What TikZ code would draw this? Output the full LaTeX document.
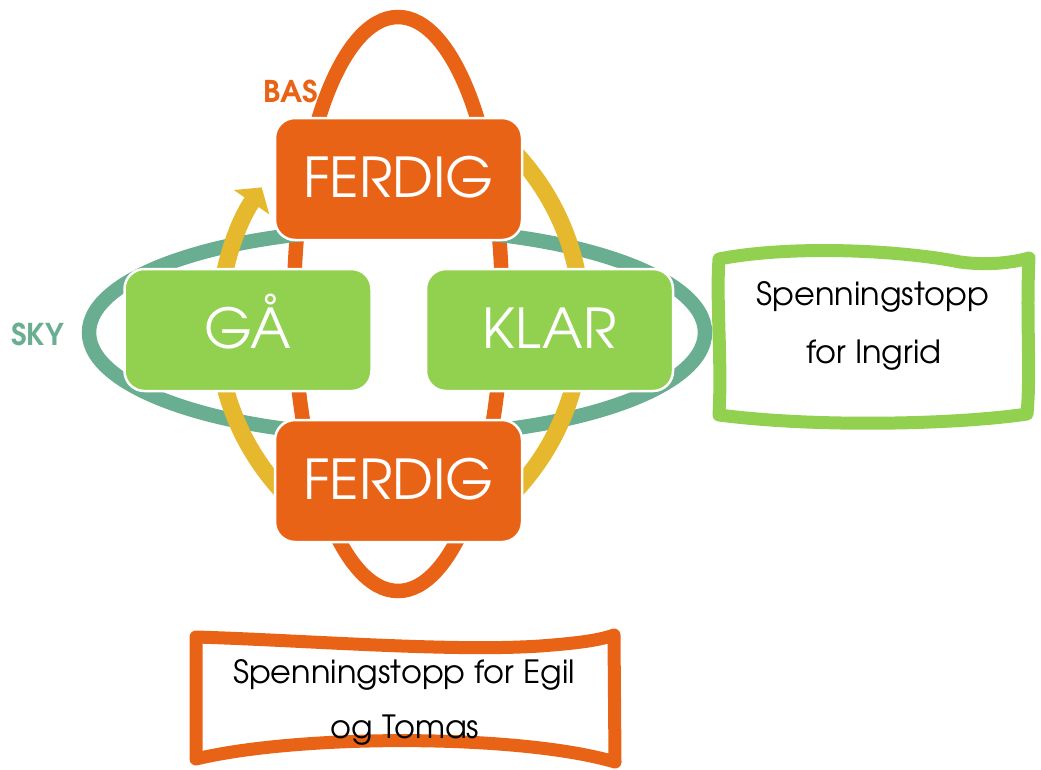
\documentclass[tikz,border=0pt]{standalone}
\usepackage{fontspec}
\setmainfont{TeX Gyre Adventor}
\usetikzlibrary{arrows.meta}
\definecolor{basorange}{HTML}{E96316}
\definecolor{skyteal}{HTML}{6AAE91}
\definecolor{leafgreen}{HTML}{92D050}
\definecolor{cycleyellow}{HTML}{E6B82D}

\begin{document}
\begin{tikzpicture}[x=1pt,y=-1pt,
  stage/.style={rounded corners=20pt, draw=white, line width=2.5pt,
    minimum width=247pt, minimum height=122pt, inner sep=0pt, text=white,
    font=\fontsize{55}{55}\selectfont, text height=36pt, text depth=0pt},
  ferdig/.style={stage, fill=basorange},
  gren/.style={stage, fill=leafgreen},
  ring/.style={line width=14.5pt},
  cyc/.style={cycleyellow, line width=17pt},
  note/.style={font=\fontsize{32}{32}\selectfont, anchor=base, inner sep=0pt},
  tag/.style={font=\fontsize{30}{30}\selectfont\bfseries, anchor=base, inner sep=0pt},
  wavy/.style={line width=13pt, line join=round}
]
\useasboundingbox (0,0) rectangle (1041,769);

% the two rings
\draw[basorange, ring] (398,304) ellipse [x radius=104, y radius=287];
\draw[skyteal, ring] (397,332.5) ellipse [x radius=308, y radius=103.5];

% cycle arrows (left pair and right pair share a centre)
\coordinate (lc) at (462,325);
\coordinate (rc) at (335,322);
\draw[cyc, -{Triangle[width=42pt,length=18pt]}] (lc) ++(186:243) arc[start angle=186, end angle=214.5, radius=243];
\draw[cyc] (rc) ++(-45:247) arc[start angle=-45, end angle=-5, radius=247];
\draw[cyc] (rc) ++(5:247) arc[start angle=5, end angle=45, radius=247];
\draw[cyc] (lc) ++(138:245) arc[start angle=138, end angle=167, radius=245];

% stages
\node[ferdig] (top) at (398.5,179) {FERDIG};
\node[gren] (ga) at (248,330) {GÅ};
\node[gren] (klar) at (549.5,330) {KLAR};
\node[ferdig] (bot) at (398.5,481) {FERDIG};

% ring labels
\node[tag, text=basorange] (bas) at (290.5,102) {BAS};
\node[tag, text=skyteal] (sky) at (37.5,345) {SKY};

% wavy note frames
\draw[leafgreen, wavy] (719,259) .. controls (790,245) and (900,250) .. (960,262)
  .. controls (990,266) and (1015,262) .. (1029,258)
  .. controls (1026,320) and (1031,370) .. (1027,414)
  .. controls (960,424) and (820,428) .. (719,415)
  .. controls (722,360) and (716,300) .. (719,259) -- cycle;
\draw[basorange, wavy] (196,637) .. controls (300,640) and (450,652) .. (540,646)
  .. controls (580,643) and (600,640) .. (614,635)
  -- (615,762)
  .. controls (520,734) and (300,734) .. (196,759) -- cycle;

% note texts
\node[note] (ingrid1) at (873,305) {Spenningstopp};
\node[note] (ingrid2) at (874,363) {for Ingrid};
\node[note] (egil1) at (404,683) {Spenningstopp for Egil};
\node[note] (egil2) at (405,738) {og Tomas};
\end{tikzpicture}
\end{document}
